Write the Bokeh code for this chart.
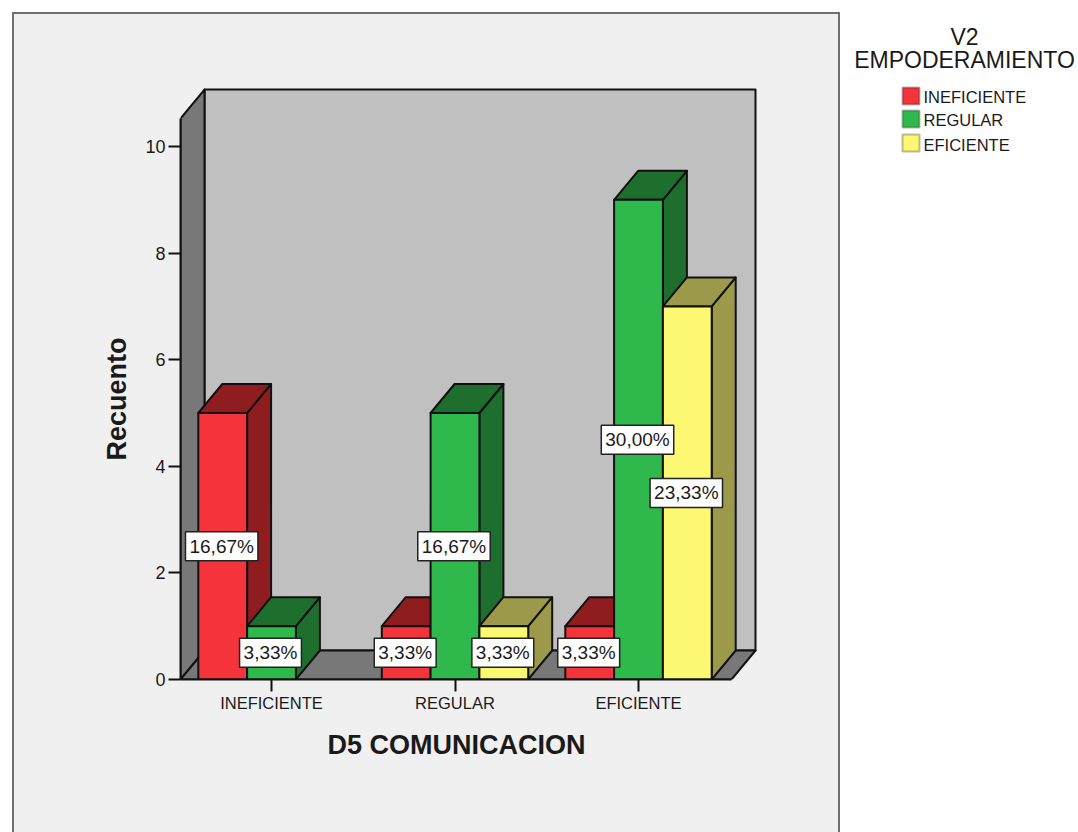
from bokeh.embed import file_html
from bokeh.models import BoxAnnotation, FixedTicker, Label, Range1d, Title
from bokeh.plotting import figure
from bokeh.resources import INLINE

categories = ["INEFICIENTE", "REGULAR", "EFICIENTE"]
series_names = ["INEFICIENTE", "REGULAR", "EFICIENTE"]
ineficiente = [5, 1, 1]
regular = [1, 5, 9]
eficiente = [0, 1, 7]
y_ticks = [0, 2, 4, 6, 8, 10]

front_colors = ["#f5333a", "#2fb84b", "#fdf871"]
shade_colors = ["#8f1d20", "#1e6e2d", "#9c9a4a"]
FONT = "Liberation Sans"
INK = "#1a1a1a"

# The scales: one category step is 183.5 px, one count is 53.3 px.
X_LEFT, X_RIGHT = -91 / 183.5, 460 / 183.5
Y_TOP = 10.525
DX, DY = 24 / 183.5, 29 / 53.3
BAR = 48.8 / 183.5

p = figure(
    width=1078, height=832, output_backend="svg", toolbar_location=None,
    x_range=Range1d(X_LEFT, 807 / 183.5),
    y_range=Range1d(0, 679 / 53.3),
    min_border_left=180, min_border_bottom=153, min_border_top=0, min_border_right=0,
)
p.outline_line_color = None
p.grid.visible = False
p.background_fill_color = None
p.border_fill_color = None

# Grey bordered panel behind the transparent canvas, running off the bottom of the page
p.styles = {
    "background-color": "white",
    "background-image": "linear-gradient(#f0f0f0,#f0f0f0), linear-gradient(#6f6f6f,#6f6f6f)",
    "background-size": "824px 830px, 828px 830px",
    "background-position": "14px 14px, 12px 12px",
    "background-repeat": "no-repeat",
}

# Box of the 3D chart: back wall, left wall, floor
EDGE = dict(line_color="#111111", line_width=2, line_join="round")
p.patch([X_LEFT + DX, X_RIGHT + DX, X_RIGHT + DX, X_LEFT + DX],
        [DY, DY, Y_TOP + DY, Y_TOP + DY], fill_color="#c0c0c0", **EDGE)
p.patch([X_LEFT, X_LEFT + DX, X_LEFT + DX, X_LEFT],
        [0, DY, Y_TOP + DY, Y_TOP], fill_color="#787878", **EDGE)
p.patch([X_LEFT, X_RIGHT, X_RIGHT + DX, X_LEFT + DX],
        [0, 0, DY, DY], fill_color="#787878", **EDGE)

# Bars drawn left to right so each front face hides its neighbour's side
all_series = [ineficiente, regular, eficiente]
total = sum(sum(s) for s in all_series)
callouts = []
for c in range(len(categories)):
    for s, values in enumerate(all_series):
        v = values[c]
        if v == 0:
            continue
        x0 = c + (s - 1.5) * BAR
        x1 = x0 + BAR
        p.patch([x1, x1 + DX, x1 + DX, x1], [0, DY, v + DY, v],
                fill_color=shade_colors[s], **EDGE)
        p.patch([x0, x1, x1 + DX, x0 + DX], [v, v, v + DY, v + DY],
                fill_color=shade_colors[s], **EDGE)
        p.quad(left=x0, right=x1, bottom=0, top=v, fill_color=front_colors[s], **EDGE)
        callouts.append(((x0 + x1) / 2, v / 2, f"{100 * v / total:.2f}%".replace(".", ",")))

for cx, cy, text in callouts:
    p.add_layout(Label(
        x=cx, y=cy, text=text, text_font=FONT, text_font_size="19px", text_color=INK,
        text_align="center", text_baseline="middle", padding=4,
        background_fill_color="white", background_fill_alpha=1,
        border_line_color="#222222", border_line_width=1.5,
        x_offset=-1,
    ))

# Axes
p.xaxis.ticker = FixedTicker(ticks=list(range(len(categories))))
p.xaxis.major_label_overrides = {i: c for i, c in enumerate(categories)}
p.xaxis.bounds = (X_LEFT, X_RIGHT)
p.yaxis.ticker = FixedTicker(ticks=y_ticks)
p.yaxis.bounds = (0, Y_TOP)
for ax, standoff in ((p.xaxis, 2), (p.yaxis, 3)):
    ax.major_tick_in = 0
    ax.major_tick_out = 12
    ax.minor_tick_in = 0
    ax.minor_tick_out = 0
    ax.axis_line_color = "#111111"
    ax.axis_line_width = 2
    ax.major_tick_line_color = "#111111"
    ax.major_tick_line_width = 2
    ax.major_label_text_font = FONT
    ax.major_label_text_color = INK
    ax.major_label_standoff = standoff
p.xaxis.major_label_text_font_size = "16.5px"
p.yaxis.major_label_text_font_size = "18px"

# Axis names, offset along the frame so they sit centred on the chart's box
AXIS_NAME = dict(text_font=FONT, text_font_size="27px", text_font_style="bold",
                 text_color=INK, align="left")
p.add_layout(Title(text="D5 COMUNICACION", offset=147, standoff=26, vertical_align="bottom", **AXIS_NAME), "below")
p.add_layout(Title(text="Recuento", offset=219, standoff=22, **AXIS_NAME), "left")


def caption(px, py, text, size, align="center"):
    p.add_layout(Label(
        x=px, y=py, x_units="canvas", y_units="canvas", text=text,
        text_font=FONT, text_font_size=size,
        text_color=INK, text_align=align, text_baseline="middle",
    ))


# Legend
caption(964, 36, "V2", "23px")
caption(964, 59, "EMPODERAMIENTO", "23px")
for name, color, top, mid in zip(series_names, front_colors, (87, 110, 134), (96, 119, 144)):
    p.add_layout(BoxAnnotation(
        left=902, right=919, top=top, bottom=top + 17,
        left_units="canvas", right_units="canvas", top_units="canvas", bottom_units="canvas",
        fill_color=color, fill_alpha=1, line_color="#222222", line_width=2, level="annotation",
    ))
    caption(923, mid, name, "16.5px", align="left")

open("out.html", "w").write(file_html(p, INLINE))
